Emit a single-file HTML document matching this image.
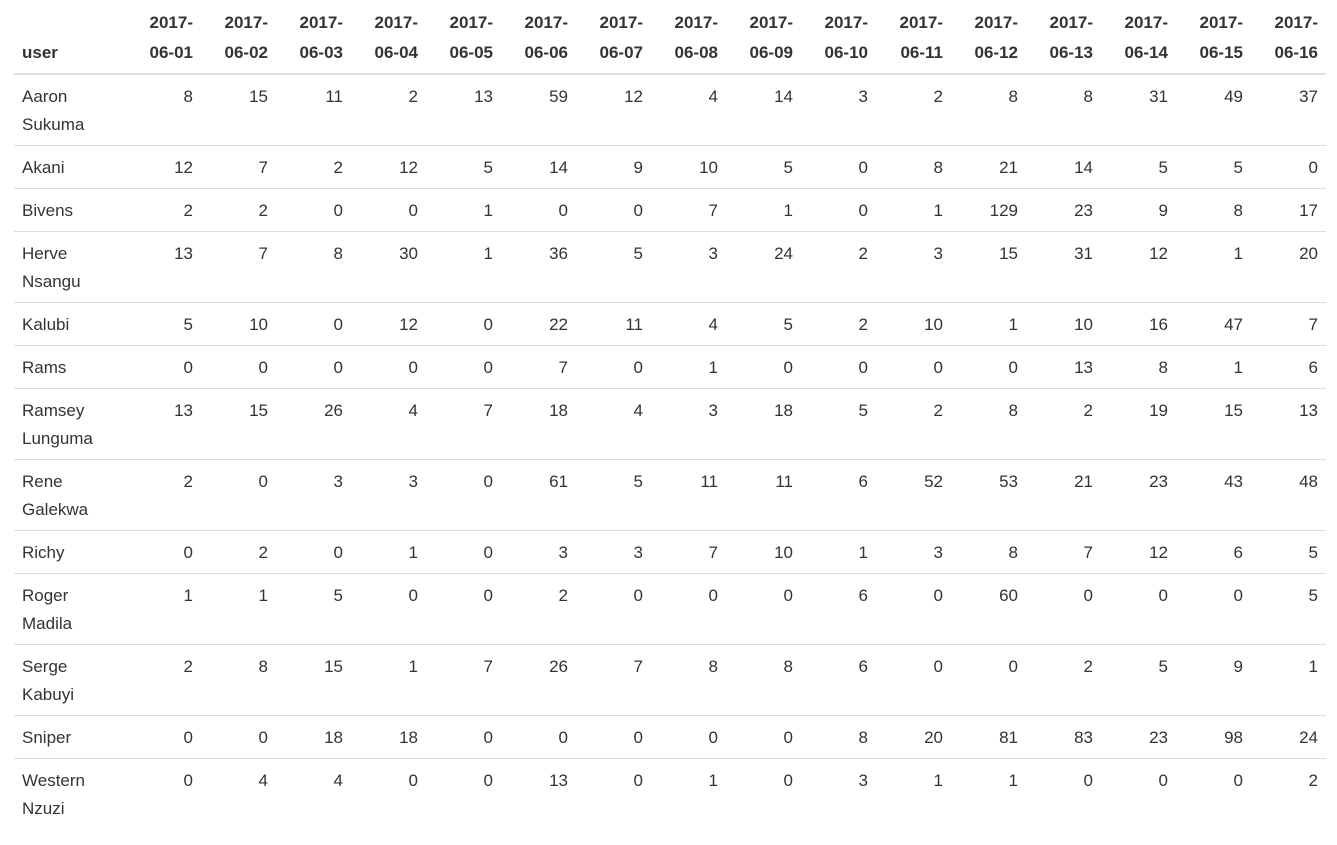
<!DOCTYPE html>
<html><head><meta charset="utf-8"><style>
body{margin:0;background:#fff;font-family:"Liberation Sans",Arial,sans-serif;color:#333;}
table{position:absolute;left:14px;top:0;border-collapse:collapse;table-layout:fixed;width:1312px;font-size:17px;}
th,td{padding:0 8px;}
th{font-weight:bold;vertical-align:bottom;line-height:30px;padding-bottom:5px;height:39px;text-align:right;border-bottom:2px solid #ddd;}
th.u{text-align:left;}
td{vertical-align:top;line-height:28px;padding-top:8px;text-align:right;border-top:1px solid #ddd;}
td.u{text-align:left;}
tr.s td{height:34px;}
tr.d td{height:62px;}
</style></head><body>
<table>
<colgroup><col style="width:112px"><col span="16" style="width:75px"></colgroup>
<thead><tr style="height:74px">
<th class="u">user</th>
<th>2017-<br>06-01</th><th>2017-<br>06-02</th><th>2017-<br>06-03</th><th>2017-<br>06-04</th><th>2017-<br>06-05</th><th>2017-<br>06-06</th><th>2017-<br>06-07</th><th>2017-<br>06-08</th><th>2017-<br>06-09</th><th>2017-<br>06-10</th><th>2017-<br>06-11</th><th>2017-<br>06-12</th><th>2017-<br>06-13</th><th>2017-<br>06-14</th><th>2017-<br>06-15</th><th>2017-<br>06-16</th>
</tr></thead>
<tbody id="tb"></tbody>
</table>
<script>
const users=["Aaron Sukuma","Akani","Bivens","Herve Nsangu","Kalubi","Rams","Ramsey Lunguma","Rene Galekwa","Richy","Roger Madila","Serge Kabuyi","Sniper","Western Nzuzi"];
const values=[
[8,15,11,2,13,59,12,4,14,3,2,8,8,31,49,37],
[12,7,2,12,5,14,9,10,5,0,8,21,14,5,5,0],
[2,2,0,0,1,0,0,7,1,0,1,129,23,9,8,17],
[13,7,8,30,1,36,5,3,24,2,3,15,31,12,1,20],
[5,10,0,12,0,22,11,4,5,2,10,1,10,16,47,7],
[0,0,0,0,0,7,0,1,0,0,0,0,13,8,1,6],
[13,15,26,4,7,18,4,3,18,5,2,8,2,19,15,13],
[2,0,3,3,0,61,5,11,11,6,52,53,21,23,43,48],
[0,2,0,1,0,3,3,7,10,1,3,8,7,12,6,5],
[1,1,5,0,0,2,0,0,0,6,0,60,0,0,0,5],
[2,8,15,1,7,26,7,8,8,6,0,0,2,5,9,1],
[0,0,18,18,0,0,0,0,0,8,20,81,83,23,98,24],
[0,4,4,0,0,13,0,1,0,3,1,1,0,0,0,2]];
const tb=document.getElementById('tb');
users.forEach((u,i)=>{
 const tr=document.createElement('tr');
 tr.className=u.includes(' ')?'d':'s';
 
 
 const td=document.createElement('td');
 td.className='u';
 td.innerHTML=u.replace(' ','<br>');
 
 
 tr.appendChild(td);
 values[i].forEach(v=>{
  const c=document.createElement('td');
  c.textContent=v;
  
  
  tr.appendChild(c);
 });
 tb.appendChild(tr);
});
</script>
</body></html>
